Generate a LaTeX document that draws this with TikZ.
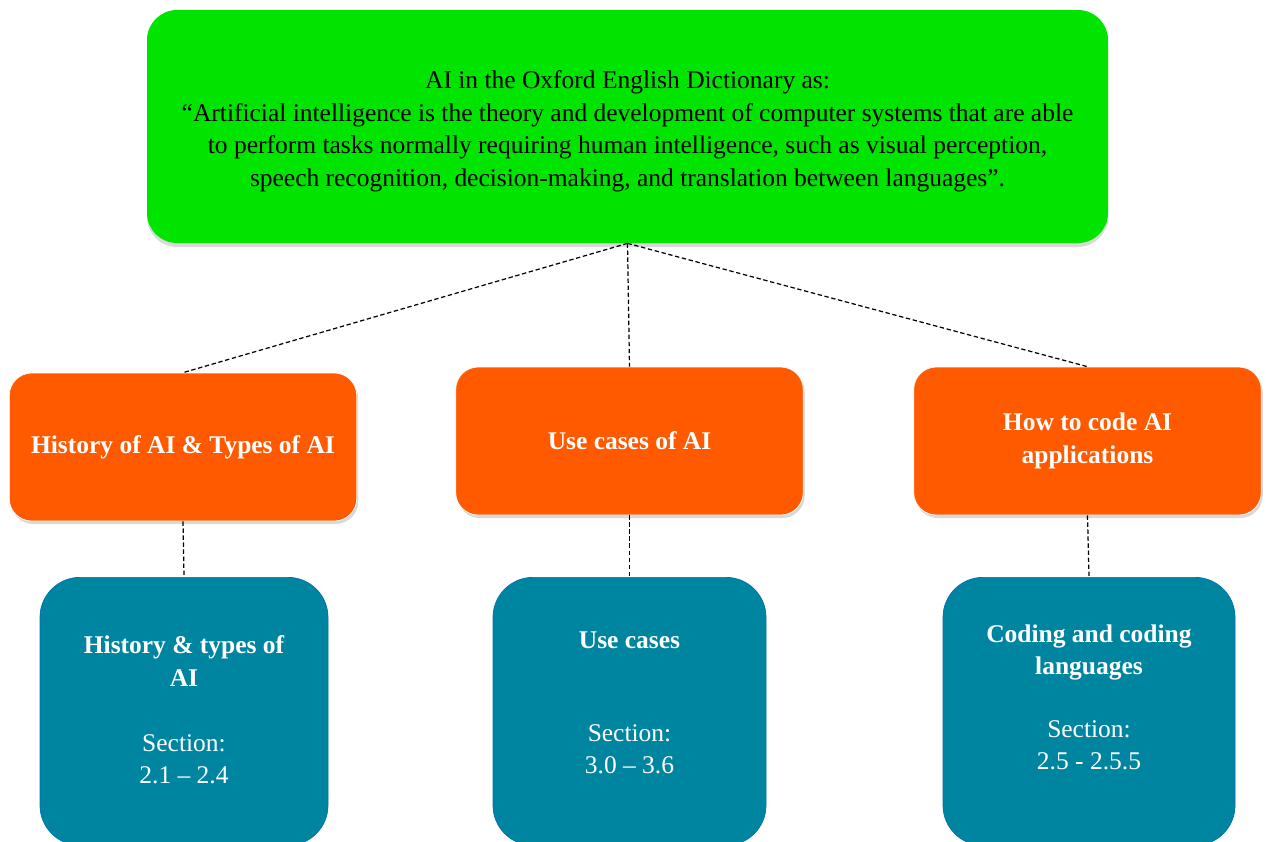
\documentclass[tikz,border=0pt]{standalone}
\usepackage{fontspec}
\setmainfont{Liberation Serif}
\usetikzlibrary{shadows}

\definecolor{defgreen}{RGB}{0,228,0}
\definecolor{topicorange}{RGB}{255,90,0}
\definecolor{sectionteal}{RGB}{0,133,161}

\begin{document}
\begin{tikzpicture}[
        defbox/.style = {%
            fill = defgreen,
            rounded corners = 0.6cm,
            minimum width = 19.22cm,
            minimum height = 4.66cm,
            align = center,
            font = \fontsize{14.5}{18.5}\selectfont,
            drop shadow = {shadow xshift = 0cm, shadow yshift = -0.08cm, opacity = 0.3}
        },
        topicbox/.style = {%
            fill = topicorange,
            draw = white,
            rounded corners = 0.45cm,
            minimum width = 6.95cm,
            minimum height = 2.96cm,
            align = center,
            text = white,
            font = \bfseries\fontsize{14.5}{18.5}\selectfont,
            drop shadow = {shadow xshift = 0.03cm, shadow yshift = -0.06cm, opacity = 0.3}
        },
        sectionbox/.style = {%
            fill = sectionteal,
            draw = sectionteal!85!blue,
            rounded corners = 0.8cm,
            anchor = north,
            inner xsep = 0pt,
            inner ysep = 0.23cm,
            text = white,
            font = \fontsize{14.5}{18.5}\selectfont
        },
        link/.style = {dash pattern = on 2.5pt off 1.5pt, line width = 0.7pt}
    ]

        \useasboundingbox (0, 0) rectangle (25.32, -16.82);

        % Definition at the top.
        \node[defbox] (def) at (12.55, -2.53) {%
            \rule{0pt}{0.55cm}AI in the Oxford English Dictionary as:\\
            “Artificial intelligence is the theory and development of computer systems that are able\\
            to perform tasks normally requiring human intelligence, such as visual perception,\\
            speech recognition, decision-making, and translation between languages”.};

        % Topics.
        \node[topicbox] (hist) at (3.66, -8.94)  {History of AI \& Types of AI};
        \node[topicbox] (uses) at (12.59, -8.82) {Use cases of AI};
        \node[topicbox] (code) at (21.75, -8.82) {How to code AI\\applications};

        % Sections, running off the bottom edge.
        \node[sectionbox, minimum width = 5.76cm] (sec1) at (3.68, -11.54) {%
            \parbox[t][4.9cm][t]{5.4cm}{\centering\vspace{0.94cm}%
            {\bfseries History \& types of\\AI}\\[0.65cm]Section:\\2.1 -- 2.4}};
        \node[sectionbox, minimum width = 5.46cm] (sec2) at (12.59, -11.54) {%
            \parbox[t][4.9cm][t]{5.4cm}{\centering\vspace{0.86cm}%
            {\bfseries Use cases}\\[1.2cm]Section:\\3.0 -- 3.6}};
        \node[sectionbox, minimum width = 5.84cm] (sec3) at (21.78, -11.54) {%
            \parbox[t][4.9cm][t]{5.4cm}{\centering\vspace{0.71cm}%
            {\bfseries Coding and coding\\languages}\\[0.6cm]Section:\\2.5 - 2.5.5}};

        % Dashed links.
        \draw[link] (def.south) -- (hist.north);
        \draw[link] (def.south) -- (uses.north);
        \draw[link] (def.south) -- (code.north);
        \draw[link] (hist.south) -- (sec1.north);
        \draw[link] (uses.south) -- (sec2.north);
        \draw[link] (code.south) -- (sec3.north);
    \end{tikzpicture}
\end{document}
